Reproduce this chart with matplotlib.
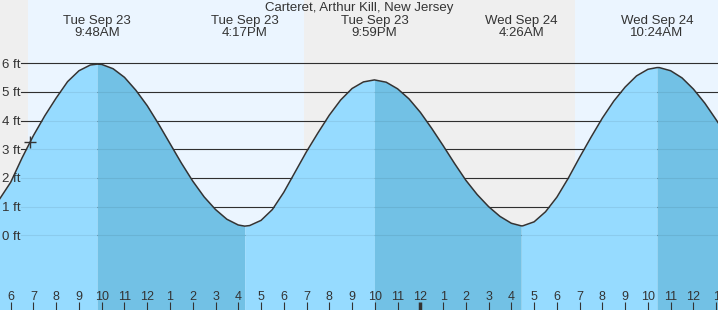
import matplotlib
matplotlib.use("Agg")
import numpy as np
import matplotlib.pyplot as plt

plt.rcParams['font.family'] = ['Liberation Sans', 'DejaVu Sans']

station = "Carteret, Arthur Kill, New Jersey"

# hours counted from Tue Sep 23 00:00, heights in feet
hours = [5.5, 6.0, 6.5, 7.0, 7.5, 8.0, 8.5, 9.0, 9.5, 9.8,
         10.0, 10.5, 11.0, 11.5, 12.0, 12.5, 13.0, 13.5, 14.0, 14.5, 15.0, 15.5, 16.0, 16.283,
         16.5, 17.0, 17.5, 18.0, 18.5, 19.0, 19.5, 20.0, 20.5, 21.0, 21.5, 21.983,
         22.5, 23.0, 23.5, 24.0, 24.5, 25.0, 25.5, 26.0, 26.5, 27.0, 27.5, 28.0, 28.433,
         28.5, 29.0, 29.5, 30.0, 30.5, 31.0, 31.5, 32.0, 32.5, 33.0, 33.5, 34.0, 34.4,
         34.5, 35.0, 35.5, 36.0, 36.5, 37.0, 37.1]
height_ft = [1.25, 1.85, 2.70, 3.48, 4.17, 4.79, 5.36, 5.74, 5.94, 5.97,
             5.96, 5.81, 5.51, 5.06, 4.52, 3.88, 3.20, 2.52, 1.89, 1.34, 0.90, 0.56, 0.36, 0.32,
             0.34, 0.52, 0.90, 1.50, 2.21, 2.92, 3.57, 4.19, 4.72, 5.12, 5.35, 5.42,
             5.34, 5.11, 4.76, 4.29, 3.73, 3.13, 2.51, 1.92, 1.42, 1.00, 0.66, 0.42, 0.33,
             0.33, 0.47, 0.82, 1.33, 1.99, 2.72, 3.42, 4.09, 4.68, 5.17, 5.56, 5.79, 5.85,
             5.85, 5.74, 5.49, 5.10, 4.61, 4.03, 3.91]

event_hours = [9.8, 16.283, 21.983, 28.433, 34.4]
event_days = ["Tue Sep 23", "Tue Sep 23", "Tue Sep 23", "Wed Sep 24", "Wed Sep 24"]
event_times = ["9:48AM", "4:17PM", "9:59PM", "4:26AM", "10:24AM"]

day_start = [6.76, 30.80]
day_end = [18.89, 40.0]

now_hour = 6.86
now_ft = 3.27

ft_ticks = [0, 1, 2, 3, 4, 5, 6]
hour_ticks = list(range(6, 38))

t = np.array(hours)
h = np.array(height_ft)
x0, x1 = 5.53, 37.08
y0, y1 = -2.605, 8.207

fig = plt.figure(figsize=(7.18, 3.10), dpi=100)
ax = fig.add_axes([0, 0, 1, 1])
ax.set_xlim(x0, x1)
ax.set_ylim(y0, y1)
ax.set_facecolor('#efefef')
for s in ax.spines.values():
    s.set_visible(False)

for a, b in zip(day_start, day_end):
    ax.axvspan(a, b, color='#ebf5ff', lw=0, zorder=0)

for v in ft_ticks:
    ax.axhline(v, xmin=21 / 718, color='#333333', lw=0.8, zorder=0.5)

# rising = light, falling = dark
bounds = [x0 - 1] + event_hours + [x1 + 1]
for i in range(len(bounds) - 1):
    m = (t >= bounds[i]) & (t <= bounds[i + 1])
    col = '#96dbff' if i % 2 == 0 else '#72c1e5'
    ax.fill_between(t[m], h[m], y0 - 1, color=col, lw=0, zorder=1)

for v in ft_ticks:
    ax.axhline(v, xmin=21 / 718, color='#000000', alpha=0.07, lw=0.8, zorder=1.1)

ax.plot(t, h, color='#333333', lw=1.1, zorder=2, solid_joinstyle='round')
ax.plot([now_hour], [now_ft], marker='+', ms=9, mew=1.0, color='#333333', zorder=2.2)

ax.set_axisbelow(False)
ax.set_yticks(ft_ticks, labels=[f"{v} ft" for v in ft_ticks])
ax.tick_params(axis='y', direction='in', length=0, pad=-14.5, labelsize=9.5, labelcolor='#333333')

ax.set_xticks(hour_ticks, labels=[str((v - 1) % 12 + 1) for v in hour_ticks])
ax.tick_params(axis='x', direction='in', length=6, width=0.8, color='#333333',
               pad=-14, labelsize=9, labelcolor='#333333')
ax.xaxis.get_major_ticks()[hour_ticks.index(24)].tick1line.set_markeredgewidth(2.5)

for et, d, tm in zip(event_hours, event_days, event_times):
    ax.text(et, 1 - 15 / 310, f"{d}\n{tm}", transform=ax.get_xaxis_transform(),
            ha='center', va='top', fontsize=9.5, color='#333333', linespacing=1.0)

fig.text(0.5, 1 - 8 / 310, station, ha='center', va='center', fontsize=9.5, color='#333333')

fig.savefig("out.png", dpi=100)
